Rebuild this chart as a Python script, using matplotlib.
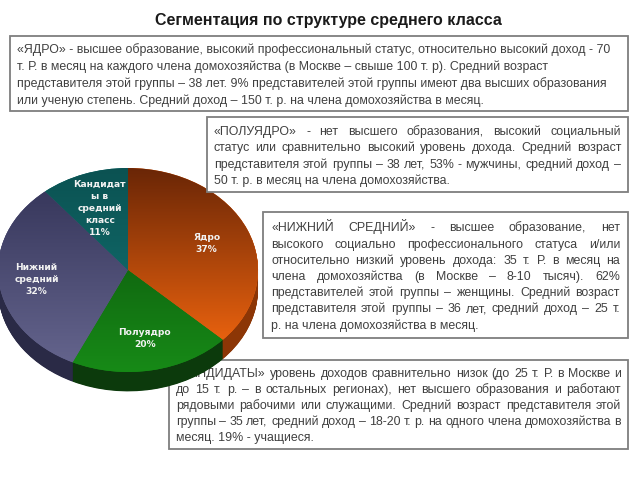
import numpy as np
import matplotlib
matplotlib.use("Agg")
import matplotlib.pyplot as plt
from matplotlib.colors import LinearSegmentedColormap
from matplotlib.patches import Rectangle

# ---------------- data ----------------
segments = ["Ядро", "Полуядро", "Нижний\nсредний", "Кандидат\nы в\nсредний\nкласс"]
shares = [37, 20, 32, 11]

title = "Сегментация по структуре среднего класса"

box1_lines = [
    "«ЯДРО» - высшее образование, высокий профессиональный статус, относительно высокий доход - 70",
    "т. Р. в месяц на каждого члена домохозяйства (в Москве – свыше 100 т. р). Средний возраст",
    "представителя этой группы – 38 лет. 9% представителей этой группы имеют два высших образования",
    "или ученую степень. Средний доход – 150 т. р. на члена домохозяйства в месяц.",
]
box2_lines = [
    "«ПОЛУЯДРО» - нет высшего образования, высокий социальный",
    "статус или сравнительно высокий уровень дохода. Средний возраст",
    "представителя этой группы – 38 лет, 53% - мужчины, средний доход –",
    "50 т. р. в месяц на члена домохозяйства.",
]
box3_lines = [
    "«НИЖНИЙ СРЕДНИЙ» - высшее образование, нет",
    "высокого социально профессионального статуса и/или",
    "относительно низкий уровень дохода: 35 т. Р. в месяц на",
    "члена домохозяйства (в Москве – 8-10 тысяч). 62%",
    "представителей этой группы – женщины. Средний возраст",
    "представителя этой группы – 36 лет, средний доход – 25 т.",
    "р. на члена домохозяйства в месяц.",
]
box4_lines = [
    "«КАНДИДАТЫ» уровень доходов сравнительно низок (до 25 т. Р. в Москве и",
    "до 15 т. р. – в остальных регионах), нет высшего образования и работают",
    "рядовыми рабочими или служащими. Средний возраст представителя этой",
    "группы – 35 лет, средний доход – 18-20 т. р. на одного члена домохозяйства в",
    "месяц. 19% - учащиеся.",
]

# ---------------- style ----------------
top_colors = ["#6A2606", "#0A4A0A", "#323256", "#0B5252"]
bottom_colors = ["#FF6C10", "#178A17", "#66668F", "#137676"]
side_colors = ["#8C3606", "#0C3A0C", "#2A2A46", "#0A4040"]
text_color = "#404040"
border_color = "#7E7E7E"
body_font = "Liberation Sans"

W, H = 640, 480
fig = plt.figure(figsize=(6.4, 4.8), dpi=100)
fig.patch.set_facecolor("white")
renderer = fig.canvas.get_renderer()


def overlay(z):
    a = fig.add_axes([0, 0, 1, 1], zorder=z)
    a.set_xlim(0, W)
    a.set_ylim(H, 0)
    a.axis("off")
    a.patch.set_visible(False)
    return a


ax_under = overlay(0)
ax_over = overlay(2)

# body font size fitted to reference line width
probe = ax_under.text(0, 0, box1_lines[2], fontsize=10, family=body_font)
w10 = probe.get_window_extent(renderer).width
probe.remove()
FS = 10 * 592 / w10
BASE_SHIFT = 0.36 * FS * 100 / 72   # centre -> baseline, pixels


def draw_box(ax, rect, lines, first_y, dy, pad, justify):
    x0, y0, x1, y1 = rect
    ax.add_patch(Rectangle((x0, y0), x1 - x0, y1 - y0, facecolor="white",
                           edgecolor=border_color, lw=1.3))
    left, right = x0 + pad, x1 - pad
    width = right - left
    for i, line in enumerate(lines):
        y = first_y + i * dy + BASE_SHIFT
        if justify and i < len(lines) - 1:
            words = line.split(" ")
            ts = [ax.text(0, y, w, fontsize=FS, family=body_font, color=text_color,
                          va="baseline", ha="left") for w in words]
            ws = [t.get_window_extent(renderer).width for t in ts]
            gap = (width - sum(ws)) / (len(words) - 1)
            x = left
            for t, w in zip(ts, ws):
                t.set_x(x)
                x += w + gap
        else:
            ax.text(left, y, line, fontsize=FS, family=body_font, color=text_color,
                    va="baseline", ha="left")


ax_under.text(328, 21, title, fontsize=11.5, family=body_font, weight="bold",
              color="#1A1A1A", ha="center", va="center")

draw_box(ax_under, (10, 36, 628, 111), box1_lines, 49, 16.8, 7, False)
draw_box(ax_over, (207, 117, 628, 192), box2_lines, 130.5, 16.5, 7, True)
draw_box(ax_over, (263, 212, 628, 338), box3_lines, 227, 16.2, 8, True)
draw_box(ax_under, (169, 360, 628, 449), box4_lines, 373, 15.8, 7, True)

# ---------------- pie ----------------
cx, cy, rx, ry = 128, 270, 130, 102   # pixel geometry of the top face
depth = 0.19                              # in data units (vertical)
ylo, yhi = -1 - depth - 0.02, 1.02
xlo, xhi = -1.02, 1.02
px_left = cx + xlo * rx
px_right = cx + xhi * rx
px_top = cy - yhi * ry
px_bot = cy - ylo * ry
ax_pie = fig.add_axes([px_left / W, 1 - px_bot / H,
                       (px_right - px_left) / W, (px_bot - px_top) / H], zorder=1)

# side (extrusion)
for d in np.linspace(depth, 0.004, 40):
    ax_pie.pie(shares, startangle=90, counterclock=False, colors=side_colors,
               center=(0, -d), radius=1, wedgeprops=dict(linewidth=0))

# top face
wedges, _ = ax_pie.pie(shares, startangle=90, counterclock=False,
                       colors=bottom_colors, radius=1,
                       wedgeprops=dict(linewidth=0))
grad = np.linspace(0, 1, 256)[:, None] * np.ones((1, 2))
for wdg, c0, c1 in zip(wedges, top_colors, bottom_colors):
    cmap = LinearSegmentedColormap.from_list("g", [c0, c1])
    im = ax_pie.imshow(grad, cmap=cmap, extent=(-1, 1, -1, 1), origin="upper",
                       aspect="auto", interpolation="bilinear", zorder=3)
    im.set_clip_path(wdg)

label_r = [0.66, 0.68, 0.71, 0.64]
for wdg, name, share, r in zip(wedges, segments, shares, label_r):
    mid = np.deg2rad((wdg.theta1 + wdg.theta2) / 2)
    ax_pie.text(r * np.cos(mid), r * np.sin(mid), f"{name}\n{share}%",
                ha="center", va="center", fontsize=6.6, weight="bold",
                family="DejaVu Sans", color="#F2F2F2", linespacing=1.42, zorder=5)

ax_pie.set_aspect("auto")
ax_pie.set_xlim(xlo, xhi)
ax_pie.set_ylim(ylo, yhi)
ax_pie.axis("off")

fig.savefig("out.png", dpi=100, facecolor="white")
